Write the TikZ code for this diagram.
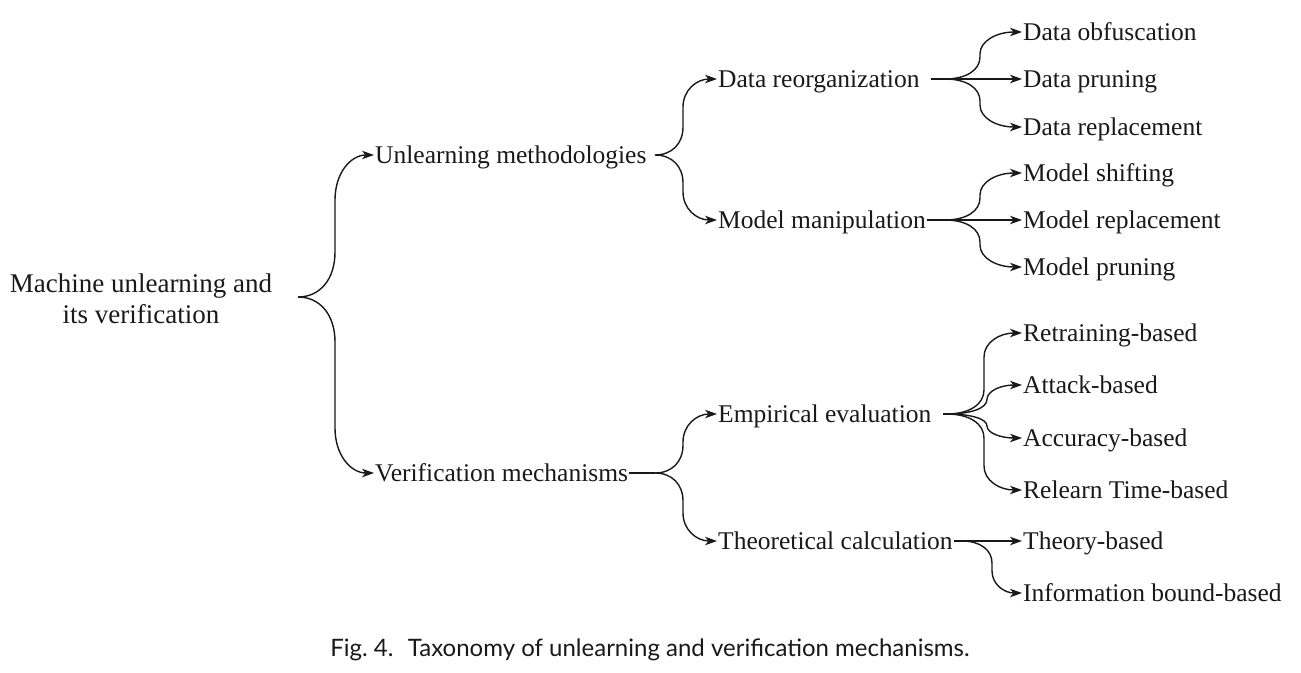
\documentclass[tikz,border=0pt]{standalone}
\usepackage{fontspec}
\setmainfont{Liberation Serif}
\newfontfamily\capfont{Lato}
\usetikzlibrary{arrows.meta,calc}
\begin{document}
\begin{tikzpicture}[x=1pt,y=-1pt,
  every node/.style={font=\fontsize{25.5}{31}\selectfont, text=black!90},
  lbl/.style={anchor=west, inner xsep=1pt, inner ysep=0pt, text height=17pt, text depth=0pt},
  conn/.style={line width=1.4pt, draw={black!90}},
  arr/.style={conn, -{Stealth[length=12pt,width=8.5pt,inset=3.5pt]}},
  brc/.style n args={2}{to path={
    let \p1=(\tikztostart), \p2=(\tikztotarget),
        \n2={(\y2>\y1)*2-1}, \n3={min(#2,abs(\y2-\y1)/2)}
    in .. controls ({\x1+0.6*#1},\y1) and ({\x1+#1},{\y1+0.4*\n2*\n3}) .. ({\x1+#1},{\y1+\n2*\n3})
       -- ({\x1+#1},{\y2-\n2*\n3})
       .. controls ({\x1+#1},{\y2-0.4*\n2*\n3}) and ({\x1+#1+0.4*(\x2-\x1-#1)},\y2) .. (\tikztotarget)}}
]
\useasboundingbox (0,0) rectangle (1301,672);

% root
\node[align=center, font=\fontsize{27}{31.5}\selectfont] (root) at (141,299) {Machine unlearning and\\its verification};
\coordinate (j0) at (298,297);

% level 1
\node[lbl] (um) at (374,155) {Unlearning methodologies};
\node[lbl] (vm) at (374,473) {Verification mechanisms};
\coordinate (jum) at (655,155);
\coordinate (jvm) at (655,473);

% level 2
\node[lbl] (dr) at (717,79) {Data reorganization};
\node[lbl] (mm) at (717,220) {Model manipulation};
\node[lbl] (ee) at (717,414) {Empirical evaluation};
\node[lbl] (tc) at (717,541) {Theoretical calculation};
\coordinate (jdr) at (945,79);
\coordinate (jmm) at (945,220);
\coordinate (jee) at (947,414);
\coordinate (jtc) at (962,541);

% level 3
\node[lbl] (d1) at (1022,32) {Data obfuscation};
\node[lbl] (d2) at (1022,79) {Data pruning};
\node[lbl] (d3) at (1022,127) {Data replacement};
\node[lbl] (m1) at (1022,173) {Model shifting};
\node[lbl] (m2) at (1022,220) {Model replacement};
\node[lbl] (m3) at (1022,267) {Model pruning};
\node[lbl] (e1) at (1022,333) {Retraining-based};
\node[lbl] (e2) at (1022,385) {Attack-based};
\node[lbl] (e3) at (1022,438) {Accuracy-based};
\node[lbl] (e4) at (1022,490) {Relearn Time-based};
\node[lbl] (t1) at (1022,541) {Theory-based};
\node[lbl] (t2) at (1022,593) {Information bound-based};

% connectors: root
\draw[arr] (j0) to[brc={37}{45}] (um.west);
\draw[arr] (j0) to[brc={37}{45}] (vm.west);

% level 1 -> 2
\draw[conn] (vm.east) -- (jvm);
\draw[arr] (jum) to[brc={28}{28}] (dr.west);
\draw[arr] (jum) to[brc={28}{28}] (mm.west);
\draw[arr] (jvm) to[brc={28}{28}] (ee.west);
\draw[arr] (jvm) to[brc={28}{28}] (tc.west);

% level 2 -> 3
\draw[conn, shorten <=10pt] (dr.east) -- (jdr);
\draw[arr] (jdr) to[brc={35}{22}] (d1.west);
\draw[arr] (jdr) -- (d2.west);
\draw[arr] (jdr) to[brc={35}{22}] (d3.west);

\draw[conn] (mm.east) -- (jmm);
\draw[arr] (jmm) to[brc={35}{22}] (m1.west);
\draw[arr] (jmm) -- (m2.west);
\draw[arr] (jmm) to[brc={35}{22}] (m3.west);

\draw[conn, shorten <=10pt] (ee.east) -- (jee);
\draw[arr] (jee) to[brc={37}{24}] (e1.west);
\draw[arr] (jee) to[brc={40}{24}] (e2.west);
\draw[arr] (jee) to[brc={40}{24}] (e3.west);
\draw[arr] (jee) to[brc={37}{24}] (e4.west);

\draw[arr] (tc.east) -- (t1.west);
\draw[arr] (jtc) to[brc={30}{22}] (t2.west);

% caption
\node[font=\capfont\fontsize{24}{28}\selectfont] (cap) at (650,650) {Fig.~4.\hspace{0.6em}Taxonomy of unlearning and verification mechanisms.};
\end{tikzpicture}
\end{document}
